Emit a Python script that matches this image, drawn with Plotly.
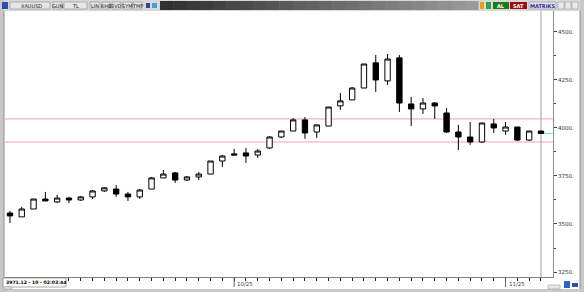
import plotly.graph_objects as go
import pandas as pd

# ---------------- data ----------------
dates = [d.strftime("%Y-%m-%d") for d in pd.bdate_range("2025-09-04", "2025-11-06")]
open_ = [3557, 3537, 3578, 3630, 3615, 3635, 3625, 3641, 3672, 3682,
         3656, 3641, 3682, 3740, 3766, 3729, 3745, 3760, 3828, 3865,
         3870, 3859, 3896, 3953, 3984, 4042, 3979, 4010, 4115, 4146,
         4208, 4339, 4245, 4365, 4125, 4099, 4130, 4078, 3979, 3953,
         3927, 4021, 3984, 4005, 3937, 3984]
high = [3568, 3589, 3630, 3667, 3651, 3641, 3646, 3677, 3693, 3703,
        3667, 3682, 3745, 3781, 3771, 3750, 3771, 3828, 3859, 3891,
        3896, 3891, 3958, 3984, 4052, 4057, 4016, 4109, 4182, 4214,
        4333, 4380, 4385, 4380, 4162, 4156, 4135, 4104, 4016, 4031,
        4026, 4047, 4031, 4005, 3984, 3984]
low = [3505, 3537, 3578, 3620, 3609, 3609, 3620, 3630, 3667, 3641,
       3620, 3630, 3682, 3740, 3714, 3724, 3729, 3760, 3797, 3859,
       3818, 3844, 3891, 3948, 3984, 3943, 3948, 4010, 4094, 4146,
       4208, 4188, 4224, 4083, 4010, 4073, 4047, 3974, 3885, 3912,
       3922, 3974, 3964, 3932, 3932, 3969]
close = [3542, 3578, 3630, 3620, 3635, 3625, 3641, 3672, 3688, 3656,
         3641, 3677, 3740, 3760, 3729, 3745, 3760, 3828, 3854, 3859,
         3854, 3880, 3953, 3984, 4042, 3974, 4016, 4109, 4141, 4208,
         4333, 4250, 4359, 4130, 4099, 4130, 4115, 3979, 3953, 3927,
         4026, 4000, 4005, 3937, 3984, 3971.12]
hlines = [4047, 3927]
last_price = 3971.12
y_ticks = [3250, 3500, 3750, 4000, 4250, 4500]
y_tick_labels = ["3250.", "3500.", "3750.", "4000.", "4250.", "4500."]
month_labels = ["10/25", "11/25"]
month_dates = ["2025-10-01", "2025-11-03"]
info_label = "3971.12 - 10 - 02:03:44"

# ---------------- geometry helpers (pixel -> paper) ----------------
W, H = 584, 292
L, R, T, B = 5, 31, 11, 15
PW, PH = W - L - R, H - T - B


def px(x):
    return (x - L) / PW


def py(y):
    return (H - B - y) / PH


fig = go.Figure()
fig.add_trace(go.Candlestick(
    x=dates, open=open_, high=high, low=low, close=close,
    increasing=dict(line=dict(color="black", width=1), fillcolor="white"),
    decreasing=dict(line=dict(color="black", width=1), fillcolor="black"),
    whiskerwidth=0, showlegend=False, hoverinfo="skip",
))

shapes = []
# support / resistance lines
for h in hlines:
    shapes.append(dict(type="line", xref="paper", yref="y", x0=0, x1=1, y0=h, y1=h,
                       line=dict(color="#f4a3a3", width=1), layer="below"))
# cursor line at last candle
last_i = len(dates) - 1
shapes.append(dict(type="line", xref="x", yref="paper", x0=last_i, x1=last_i, y0=0, y1=1.0,
                   line=dict(color="#a0a0a0", width=1), layer="below"))
# current price marker
shapes.append(dict(type="line", xref="x", yref="y", x0=last_i + 0.3, x1=last_i + 1.0,
                   y0=last_price, y1=last_price, line=dict(color="#5fe0e8", width=1)))

# ---- window chrome ----
def rect(x0, y0, x1, y1, fill, line=None, lw=0):
    shapes.append(dict(type="rect", xref="paper", yref="paper",
                       x0=px(x0), x1=px(x1), y0=py(y1), y1=py(y0),
                       fillcolor=fill, line=dict(color=line or fill, width=lw), layer="above"))

# outer frame
rect(0, 0, 584, 11, "#d8d8d8")
rect(0, 0, 4, 292, "#c8c8c8")
rect(580, 0, 584, 292, "#c8c8c8")
rect(0, 289, 584, 292, "#c8c8c8")
shapes.append(dict(type="line", xref="paper", yref="paper", x0=px(4), x1=px(4), y0=py(11), y1=py(289),
                   line=dict(color="#909090", width=1)))
shapes.append(dict(type="line", xref="paper", yref="paper", x0=px(580), x1=px(580), y0=py(11), y1=py(289),
                   line=dict(color="#909090", width=1)))
# toolbar dark gradient (approximated with steps)
gx0, gx1 = 160, 478
steps = 24
for i in range(steps):
    c = int(0x30 + (0x9a - 0x30) * i / (steps - 1))
    col = f"rgb({c},{c},{c})"
    rect(gx0 + (gx1 - gx0) * i / steps, 1, gx0 + (gx1 - gx0) * (i + 1) / steps + 0.5, 10, col)
# toolbar boxes
for (a, b) in [(10, 50), (53, 62), (64, 87), (90, 100), (102, 110), (112, 121), (123, 132), (133, 142)]:
    rect(a, 2, b, 9, "#e6e6e6", "#8a8a8a", 0.6)
rect(2, 2, 8, 9, "#3050b0")
rect(146, 3, 150, 8, "#404090")
rect(152, 3, 157, 8, "#40a0e0")
rect(480, 2, 484, 9, "#e0a020")
rect(486, 2, 491, 9, "#30a050")
rect(493, 2, 509, 9, "#1c7a1c")
rect(510, 2, 527, 9, "#9a1010")
rect(529, 2, 556, 9, "#e2e2e6", "#9090a0", 0.6)
for a in (558, 565, 572):
    rect(a, 2, a + 6, 9, "#e8e8e8", "#a0a0a0", 0.6)
# bottom info box
rect(3, 278, 66, 287, "white", "#707070", 0.6)
rect(3, 287, 12, 289, "#e8e8e8", "#909090", 0.5)
rect(548, 285, 560, 289, "#e8e8e8", "#909090", 0.5)
rect(564, 281, 570, 288, "#3060c0")
rect(572, 283, 578, 287, "#3050a0")

fig.update_layout(shapes=shapes)

ann = []
def text(x, y, s, size=6, color="black", anchor="left", bold=False):
    ann.append(dict(xref="paper", yref="paper", x=px(x), y=py(y), text=f"<b>{s}</b>" if bold else s,
                    showarrow=False, xanchor=anchor, yanchor="middle",
                    font=dict(size=size, color=color, family="DejaVu Sans")))

text(19, 5.5, "XAUUSD", 5, "#202020")
text(57.5, 5.5, "GUN", 5, "#202020", "center")
text(75.5, 5.5, "TL", 5, "#202020", "center")
text(95, 5.5, "LIN", 5, "#202020", "center")
text(106, 5.5, "KHB", 5, "#202020", "center")
text(116.5, 5.5, "SVD", 5, "#202020", "center")
text(127.5, 5.5, "SYM", 5, "#202020", "center")
text(137.5, 5.5, "TMP", 5, "#202020", "center")
text(501, 5.5, "AL", 5, "white", "center", True)
text(518.5, 5.5, "SAT", 5, "white", "center", True)
text(542.5, 5.5, "MATRIKS", 5, "#2a2a9a", "center", True)
text(4, 282.5, info_label, 4.6, "black", "left", True)

# month labels on the time axis
for lab, d in zip(month_labels, month_dates):
    ann.append(dict(xref="x", yref="paper", x=dates.index(d), y=py(284), text=lab, showarrow=False,
                    xanchor="left", yanchor="middle", xshift=1,
                    font=dict(size=5.5, color="#404040", family="DejaVu Sans")))
fig.update_layout(annotations=ann)
for d in month_dates:
    fig.add_shape(type="line", xref="x", yref="paper", x0=dates.index(d), x1=dates.index(d),
                  y0=py(287), y1=py(277), line=dict(color="#606060", width=1))

fig.update_layout(
    width=W, height=H,
    margin=dict(l=L, r=R, t=T, b=B, pad=0),
    paper_bgcolor="white", plot_bgcolor="white",
    boxgap=0.35,
    xaxis=dict(type="category", range=[-0.42, 46.02], rangeslider=dict(visible=False),
               showgrid=False, zeroline=False, showline=True, linecolor="#808080", linewidth=1,
               ticks="outside", ticklen=3, tickcolor="#202020", tickwidth=1,
               tickvals=dates, showticklabels=False, fixedrange=True),
    yaxis=dict(side="right", range=[3224, 4609], showgrid=False, zeroline=False,
               showline=True, linecolor="#909090", linewidth=1,
               tickvals=y_ticks, ticktext=y_tick_labels, ticks="outside", ticklen=3,
               tickcolor="#404040", tickfont=dict(size=5.5, color="#303030", family="DejaVu Sans"),
               minor=dict(ticks="outside", ticklen=2, dtick=125, tick0=3250, tickcolor="#404040"),
               fixedrange=True),
)

fig.write_html("out.html")
